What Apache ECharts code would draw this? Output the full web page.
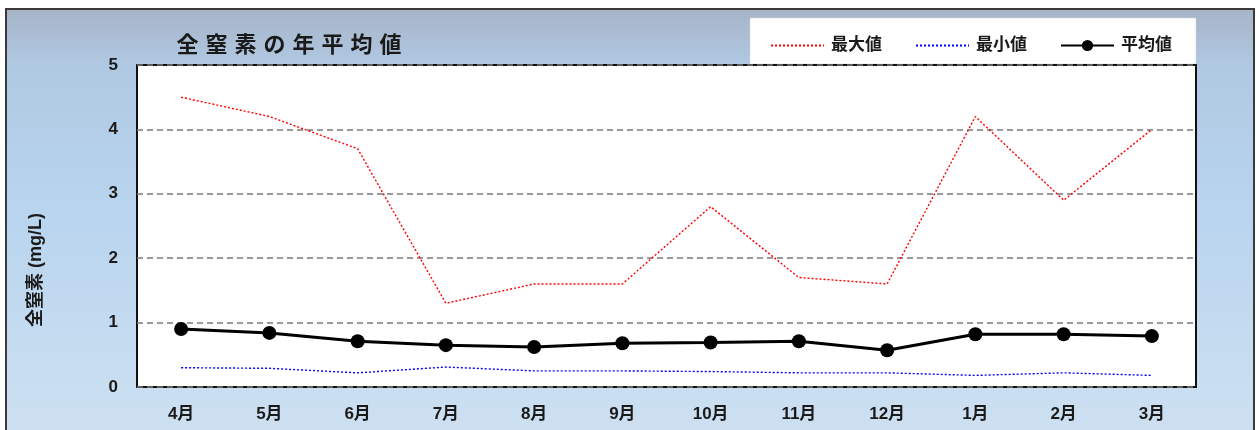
<!DOCTYPE html>
<html>
<head>
<meta charset="utf-8">
<script src="https://cdn.jsdelivr.net/npm/echarts@6/dist/echarts.min.js"></script>
<style>
  html, body { margin: 0; padding: 0; background: #fff; }
  #chart { width: 1256px; height: 430px; }
</style>
</head>
<body>
<div id="chart"></div>
<script>
// Monthly total nitrogen (mg/L), April to March
const months = ['4月', '5月', '6月', '7月', '8月', '9月', '10月', '11月', '12月', '1月', '2月', '3月'];
const maxValues = [4.5, 4.2, 3.7, 1.3, 1.6, 1.6, 2.8, 1.7, 1.6, 4.2, 2.9, 4.0];
const minValues = [0.30, 0.29, 0.22, 0.31, 0.25, 0.25, 0.24, 0.22, 0.22, 0.18, 0.22, 0.18];
const meanValues = [0.90, 0.84, 0.71, 0.65, 0.62, 0.68, 0.69, 0.71, 0.57, 0.82, 0.82, 0.79];
const yTicks = [0, 1, 2, 3, 4, 5];

const titleText = '全窒素の年平均値';
const yAxisName = '全窒素 (mg/L)';
const seriesNames = ['最大値', '最小値', '平均値'];

const FONT = '"Liberation Sans", "Noto Sans CJK JP", sans-serif';

const chart = echarts.init(document.getElementById('chart'), null, { renderer: 'canvas' });

// spaced-out heading: each character rendered as its own rich segment
const titleRich = titleText.split('').map(c => '{c|' + c + '}').join('');

chart.setOption({
  animation: false,
  backgroundColor: '#ffffff',
  graphic: [
    {
      type: 'rect',
      z: -10,
      shape: { x: 6, y: 9, width: 1248, height: 440 },
      style: {
        fill: {
          type: 'linear', x: 0, y: 0, x2: 0, y2: 1,
          colorStops: [
            { offset: 0, color: '#a6b3c6' },
            { offset: 0.13, color: '#b0c9e3' },
            { offset: 0.45, color: '#b8d4ee' },
            { offset: 1, color: '#cfe1f2' }
          ]
        },
        stroke: '#3a3a3a',
        lineWidth: 2
      }
    },
    {
      type: 'rect',
      z: -5,
      shape: { x: 750, y: 18, width: 446, height: 46 },
      style: { fill: '#ffffff', stroke: '#d0d0d0', lineWidth: 0.5 }
    },
    {
      // vertical axis caption
      type: 'text',
      x: 36,
      y: 270,
      rotation: Math.PI / 2,
      style: {
        text: yAxisName,
        fontFamily: FONT,
        fontSize: 18,
        fontWeight: 'bold',
        fill: '#1a1a1a',
        align: 'center',
        verticalAlign: 'middle'
      }
    }
  ],
  title: {
    text: titleRich,
    left: 168,
    top: 30,
    textStyle: {
      rich: {
        c: {
          fontFamily: FONT,
          fontSize: 22,
          fontWeight: 'bold',
          color: '#1a1a1a',
          padding: [0, 3.5, 0, 3.5]
        }
      }
    }
  },
  legend: {
    left: 765,
    top: 32,
    itemWidth: 53,
    itemHeight: 14,
    itemGap: 33,
    textStyle: { fontFamily: FONT, fontSize: 17, fontWeight: 'bold', color: '#1a1a1a', padding: [0, 0, 0, 2] },
    data: [
      { name: seriesNames[0], itemStyle: { opacity: 0 } },
      { name: seriesNames[1], itemStyle: { opacity: 0 } },
      { name: seriesNames[2] }
    ]
  },
  grid: {
    left: 137,
    right: 60,
    top: 65,
    bottom: 43,
    show: true,
    backgroundColor: '#ffffff',
    borderColor: '#111111',
    borderWidth: 2,
    containLabel: false
  },
  xAxis: {
    type: 'category',
    data: months,
    boundaryGap: true,
    axisLine: { show: false },
    axisTick: { show: false },
    splitLine: { show: false },
    axisLabel: {
      margin: 19,
      fontFamily: FONT,
      fontSize: 17,
      fontWeight: 'bold',
      color: '#1a1a1a'
    }
  },
  yAxis: {
    type: 'value',
    min: yTicks[0],
    max: yTicks[yTicks.length - 1],
    interval: 1,
    axisLine: { show: false },
    axisTick: { show: false },
    axisLabel: {
      margin: 19,
      fontFamily: FONT,
      fontSize: 17,
      fontWeight: 'bold',
      color: '#1a1a1a',
      formatter: v => (yTicks.indexOf(v) >= 0 ? String(v) : '')
    },
    splitLine: {
      show: true,
      lineStyle: { color: '#7a7a7a', type: [6, 4], width: 1.5 }
    }
  },
  series: [
    {
      name: seriesNames[0],
      type: 'line',
      data: maxValues,
      symbol: 'none',
      z: 3,
      color: '#ff0000',
      lineStyle: { color: '#ff0000', width: 1.4, type: [2, 2] }
    },
    {
      name: seriesNames[1],
      type: 'line',
      data: minValues,
      symbol: 'none',
      z: 3,
      color: '#0000ff',
      lineStyle: { color: '#0000ff', width: 1.4, type: [2, 2] }
    },
    {
      name: seriesNames[2],
      type: 'line',
      data: meanValues,
      symbol: 'circle',
      symbolSize: 14,
      z: 4,
      color: '#000000',
      itemStyle: { color: '#000000' },
      lineStyle: { color: '#000000', width: 3 }
    }
  ]
});
</script>
</body>
</html>
